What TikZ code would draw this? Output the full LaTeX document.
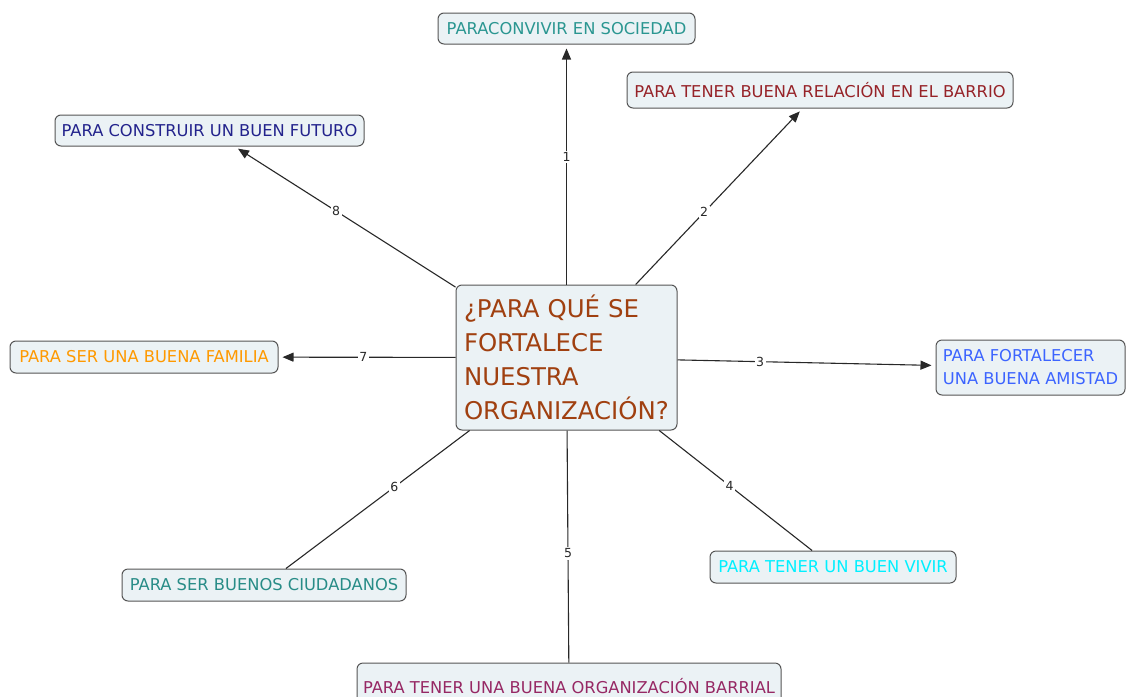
\documentclass[tikz,border=0pt]{standalone}
\usepackage{fontspec}
\setmainfont{DejaVu Sans}
\usetikzlibrary{arrows.meta}
\definecolor{boxfill}{RGB}{235,242,245}
\definecolor{boxborder}{RGB}{85,85,85}
\definecolor{linecol}{RGB}{40,40,40}
\definecolor{ctext}{RGB}{160,64,16}
\definecolor{cteal}{RGB}{42,150,145}
\definecolor{cred}{RGB}{150,35,40}
\definecolor{cnavy}{RGB}{35,35,140}
\definecolor{corange}{RGB}{255,153,0}
\definecolor{cblue}{RGB}{60,100,255}
\definecolor{ccyan}{RGB}{0,240,255}
\definecolor{cteal2}{RGB}{40,140,135}
\definecolor{cpurple}{RGB}{150,40,100}
\tikzset{
  conbox/.style={draw=boxborder, fill=boxfill, rounded corners=6pt, line width=1pt,
    font=\fontsize{16.3}{19}\selectfont, inner sep=0pt},
  conn/.style={draw=linecol, line width=1.1pt},
  arr/.style={conn, -{Triangle[length=11pt,width=9pt]}, shorten >=4pt},
  lbl/.style={fill=white, inner sep=1.5pt, text=linecol, font=\fontsize{12.5}{13}\selectfont}
}
\begin{document}
\begin{tikzpicture}[x=1pt,y=-1pt]
\clip (0,0) rectangle (1126,696);
\useasboundingbox (0,0) rectangle (1126,696);
\fill[white] (0,0) rectangle (1126,696);

\node[conbox, minimum width=221pt, minimum height=145pt, text=ctext,
      font=\fontsize{24.4}{34}\selectfont, align=left, text width=205pt] (c) at (566.5,357.5)
  {¿PARA QUÉ SE\\FORTALECE\\NUESTRA\\ORGANIZACIÓN?};

\node[conbox, minimum width=257pt, minimum height=31pt, text=cteal] (n1) at (566.5,28.5) {PARACONVIVIR EN SOCIEDAD};
\node[conbox, minimum width=386pt, minimum height=36pt, text=cred] (n2) at (820,90) {PARA TENER BUENA RELACIÓN EN EL BARRIO};
\node[conbox, minimum width=309pt, minimum height=31pt, text=cnavy] (n8) at (209.5,130.5) {PARA CONSTRUIR UN BUEN FUTURO};
\node[conbox, minimum width=268pt, minimum height=32pt, text=corange] (n7) at (144,357) {PARA SER UNA BUENA FAMILIA};
\node[conbox, minimum width=189pt, minimum height=55pt, text=cblue, align=left,
      font=\fontsize{16.3}{23}\selectfont] (n3) at (1030.5,367.5) {PARA FORTALECER\\UNA BUENA AMISTAD};
\node[conbox, minimum width=246pt, minimum height=32pt, text=ccyan] (n4) at (833,567) {PARA TENER UN BUEN VIVIR};
\node[conbox, minimum width=284pt, minimum height=32pt, text=cteal2] (n6) at (264,585) {PARA SER BUENOS CIUDADANOS};
\node[conbox, minimum width=424pt, minimum height=46pt, text=cpurple] (n5) at (569,686) {PARA TENER UNA BUENA ORGANIZACIÓN BARRIAL};

\draw[arr] (c) -- node[lbl, pos=0.53] {1} (n1);
\draw[arr] (c) -- node[lbl, pos=0.41] {2} (n2);
\draw[arr] (c) -- node[lbl, pos=0.32] {3} (n3);
\draw[conn] (c) -- node[lbl, pos=0.46] {4} (n4);
\draw[conn] (c) -- node[lbl, pos=0.53] {5} (n5);
\draw[conn] (c) -- node[lbl, pos=0.41] {6} (n6);
\draw[arr] (c) -- node[lbl, pos=0.52] {7} (n7);
\draw[arr] (c) -- node[lbl, pos=0.54] {8} (n8);
\end{tikzpicture}
\end{document}
